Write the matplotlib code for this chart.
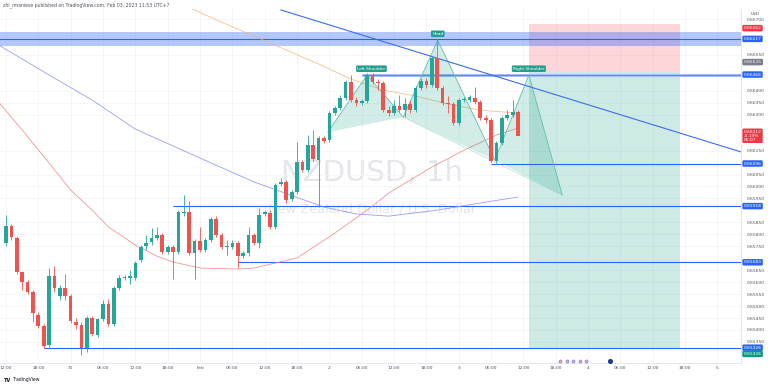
import matplotlib
matplotlib.use('Agg')
import matplotlib.pyplot as plt
import matplotlib.transforms as mtransforms
from matplotlib.patches import Rectangle, Polygon

# NZDUSD 1h candles, first bar Jan 30 12:00
opens = [0.65763, 0.65834, 0.65784, 0.65642, 0.65600, 0.65558, 0.65462, 0.65416, 0.65337, 0.65625,
         0.65542, 0.65575, 0.65542, 0.65433, 0.65420, 0.65324, 0.65450, 0.65379, 0.65446, 0.65508,
         0.65425, 0.65575, 0.65617, 0.65617, 0.65617, 0.65692, 0.65751, 0.65767, 0.65784, 0.65797,
         0.65726, 0.65747, 0.65726, 0.65889, 0.65893, 0.65721, 0.65772, 0.65734, 0.65776, 0.65864,
         0.65797, 0.65747, 0.65747, 0.65763, 0.65709, 0.65721, 0.65797, 0.65763, 0.65884, 0.65889,
         0.65830, 0.66010, 0.66018, 0.65947, 0.65976, 0.66102, 0.66068, 0.66173, 0.66110, 0.66202,
         0.66194, 0.66307, 0.66328, 0.66369, 0.66436, 0.66361, 0.66348, 0.66357, 0.66466, 0.66436,
         0.66432, 0.66319, 0.66307, 0.66336, 0.66319, 0.66344, 0.66319, 0.66411, 0.66440, 0.66424,
         0.66537, 0.66411, 0.66348, 0.66344, 0.66265, 0.66361, 0.66361, 0.66369, 0.66353, 0.66286,
         0.66277, 0.66106, 0.66181, 0.66286, 0.66298, 0.66311]
closes = [0.65834, 0.65788, 0.65642, 0.65600, 0.65558, 0.65470, 0.65416, 0.65333, 0.65625, 0.65575,
          0.65575, 0.65542, 0.65437, 0.65420, 0.65324, 0.65450, 0.65383, 0.65446, 0.65508, 0.65425,
          0.65575, 0.65617, 0.65621, 0.65625, 0.65680, 0.65747, 0.65763, 0.65784, 0.65797, 0.65726,
          0.65747, 0.65726, 0.65893, 0.65893, 0.65721, 0.65772, 0.65734, 0.65776, 0.65864, 0.65797,
          0.65747, 0.65751, 0.65763, 0.65709, 0.65721, 0.65797, 0.65763, 0.65880, 0.65893, 0.65830,
          0.66006, 0.66018, 0.65943, 0.65976, 0.66102, 0.66068, 0.66173, 0.66114, 0.66202, 0.66190,
          0.66307, 0.66328, 0.66369, 0.66436, 0.66361, 0.66348, 0.66357, 0.66466, 0.66436, 0.66432,
          0.66319, 0.66307, 0.66336, 0.66319, 0.66344, 0.66319, 0.66411, 0.66440, 0.66424, 0.66537,
          0.66411, 0.66348, 0.66344, 0.66265, 0.66361, 0.66365, 0.66374, 0.66353, 0.66286, 0.66277,
          0.66106, 0.66181, 0.66286, 0.66298, 0.66311, 0.66212]
highs = [0.65880, 0.65843, 0.65793, 0.65646, 0.65609, 0.65567, 0.65475, 0.65425, 0.65659, 0.65667,
         0.65588, 0.65634, 0.65550, 0.65450, 0.65433, 0.65458, 0.65458, 0.65450, 0.65525, 0.65529,
         0.65584, 0.65629, 0.65629, 0.65650, 0.65688, 0.65755, 0.65797, 0.65826, 0.65830, 0.65805,
         0.65755, 0.65755, 0.65901, 0.65964, 0.65939, 0.65780, 0.65830, 0.65784, 0.65872, 0.65876,
         0.65805, 0.65776, 0.65776, 0.65772, 0.65730, 0.65830, 0.65805, 0.65909, 0.65901, 0.65901,
         0.66014, 0.66035, 0.66027, 0.65985, 0.66185, 0.66110, 0.66215, 0.66236, 0.66211, 0.66211,
         0.66315, 0.66336, 0.66382, 0.66445, 0.66466, 0.66374, 0.66365, 0.66474, 0.66474, 0.66449,
         0.66440, 0.66336, 0.66361, 0.66382, 0.66369, 0.66361, 0.66420, 0.66453, 0.66453, 0.66545,
         0.66617, 0.66420, 0.66378, 0.66353, 0.66369, 0.66374, 0.66382, 0.66415, 0.66361, 0.66298,
         0.66286, 0.66190, 0.66294, 0.66319, 0.66361, 0.66319]
lows = [0.65751, 0.65776, 0.65634, 0.65567, 0.65550, 0.65433, 0.65408, 0.65324, 0.65329, 0.65558,
        0.65525, 0.65525, 0.65429, 0.65404, 0.65295, 0.65308, 0.65375, 0.65371, 0.65437, 0.65416,
        0.65416, 0.65567, 0.65609, 0.65592, 0.65609, 0.65684, 0.65734, 0.65755, 0.65776, 0.65717,
        0.65717, 0.65613, 0.65717, 0.65876, 0.65713, 0.65613, 0.65726, 0.65726, 0.65767, 0.65788,
        0.65738, 0.65713, 0.65738, 0.65659, 0.65700, 0.65709, 0.65755, 0.65742, 0.65876, 0.65822,
        0.65822, 0.66002, 0.65930, 0.65939, 0.65968, 0.66060, 0.66060, 0.66106, 0.65914, 0.66181,
        0.66185, 0.66298, 0.66319, 0.66361, 0.66353, 0.66336, 0.66340, 0.66348, 0.66428, 0.66403,
        0.66311, 0.66294, 0.66298, 0.66311, 0.66290, 0.66307, 0.66311, 0.66403, 0.66411, 0.66415,
        0.66403, 0.66340, 0.66307, 0.66256, 0.66256, 0.66353, 0.66353, 0.66344, 0.66277, 0.66265,
        0.66102, 0.66098, 0.66173, 0.66277, 0.66290, 0.66219]

# moving averages (read at a few bars)
ma_orange_idx = [30, 40, 46, 52, 58, 64, 70, 76, 82, 88, 95]
ma_orange = [0.66788, 0.66687, 0.66629, 0.66570, 0.66512, 0.66449, 0.66403, 0.66378, 0.66345, 0.66319, 0.66307]
ma_red_idx = [-2, 3, 8, 12, 16, 19, 24, 28, 31, 36, 43, 46, 54, 61, 67, 71, 75, 79, 85, 91, 95]
ma_red = [0.66370, 0.66236, 0.66098, 0.65985, 0.65901, 0.65831, 0.65755, 0.65709, 0.65684, 0.65659,
          0.65655, 0.65659, 0.65701, 0.65805, 0.65901, 0.65972, 0.66027, 0.66081, 0.66152, 0.66215, 0.66244]
ma_blue_idx = [-2, 8, 16, 24, 36, 46, 59, 65, 71, 80, 88, 95]
ma_blue = [0.66600, 0.66466, 0.66361, 0.66240, 0.66119, 0.66019, 0.65914, 0.65885, 0.65876, 0.65901, 0.65931, 0.65956]

# horizontal levels and where they start
levels = [0.66617, 0.66468, 0.66096, 0.65918, 0.65683, 0.65326]
level_start = [-1.5, 66, 90, 31, 43, 7]
zone = (0.66588, 0.66644)

# head and shoulders points
hs_idx = [59.7, 67, 73.7, 80.1, 90.7, 97, 103.2]
hs_val = [0.66227, 0.66466, 0.66290, 0.66612, 0.66110, 0.66466, 0.65964]

# short position
pos_start, pos_end = 97, 125
entry, stop, target = 0.66478, 0.66679, 0.65326

# trend line
trend_idx = [51, 137]
trend_val = [0.66738, 0.66140]

time_ticks = [0, 6, 12, 18, 24, 30, 36, 42, 48, 54, 60, 66, 72, 78, 84, 90, 96, 102, 108, 114, 120, 126, 132]
time_labels = ['12:00', '18:00', '31', '06:00', '12:00', '18:00', 'Feb', '06:00', '12:00', '18:00', '2',
               '06:00', '12:00', '18:00', '3', '06:00', '12:00', '18:00', '4', '06:00', '12:00', '18:00', '5']

# coloured labels on the price scale: (price shown at, text, colour)
scale_labels = [(0.66662, '0.66662', '#f23645'),
                (0.66617, '0.66617', '#2962ff'),
                (0.66520, '0.66525', '#787b86'),
                (0.66468, '0.66468', '#2962ff'),
                (0.66212, '0.66212\n-0.19%\n06:07', '#f23645'),
                (0.66096, '0.66096', '#2962ff'),
                (0.65918, '0.65918', '#2962ff'),
                (0.65683, '0.65683', '#2962ff'),
                (0.65326, '0.65326', '#2962ff'),
                (0.65300, '0.65326', '#089981')]

# plain scale ticks, skipping the ones hidden under a coloured label
price_ticks = []
for k in range(28):
    p = round(0.6535 + 0.0005 * k, 5)
    gap = 0.00024
    hidden = False
    for lp, txt, col in scale_labels:
        g = 0.00040 if '\n' in txt else gap
        if abs(p - lp) < g:
            hidden = True
    if not hidden:
        price_ticks.append(p)

up = '#26a69a'
down = '#ef5350'
lineblue = '#2962ff'

fig = plt.figure(figsize=(7.68, 3.86), dpi=100)
fig.patch.set_facecolor('white')
ax = fig.add_axes([0, 23 / 386, 741 / 768, 354 / 386])
ax.set_xlim(-1.11, 136.36)
ax.set_ylim(0.65262, 0.66742)

for sp in ax.spines.values():
    sp.set_color('#e0e3eb')
    sp.set_linewidth(0.6)
ax.spines['top'].set_visible(False)
ax.spines['left'].set_visible(False)

ax.set_xticks(time_ticks)
ax.set_xticklabels(time_labels)
ax.yaxis.tick_right()
ax.set_yticks(price_ticks)
ax.set_yticklabels(['%.5f' % p for p in price_ticks])
ax.tick_params(axis='both', length=0, labelsize=3.2, colors='#50535e')
ax.tick_params(axis='y', pad=4.2)
ax.tick_params(axis='x', pad=2.2)
ax.grid(True, color='#f2f3f6', linewidth=0.5)
ax.set_axisbelow(True)

# watermark
ax.text(0.502, 0.538, 'NZDUSD, 1h', transform=ax.transAxes, fontsize=21, color='#e4e6ec',
        ha='center', va='center', zorder=0.5)
ax.text(0.502, 0.435, 'New Zealand Dollar / U.S. Dollar', transform=ax.transAxes, fontsize=9.3,
        color='#e4e6ec', ha='center', va='center', zorder=0.5)

# position box
ax.add_patch(Rectangle((pos_start, entry), pos_end - pos_start, stop - entry,
                       facecolor='#f23645', alpha=0.2, linewidth=0, zorder=1))
ax.add_patch(Rectangle((pos_start, target), pos_end - pos_start, entry - target,
                       facecolor='#089981', alpha=0.2, linewidth=0, zorder=1))

# zone and levels
ax.axhspan(zone[0], zone[1], facecolor='#2962ff', alpha=0.35, linewidth=0, zorder=1.2)
for lv, st in zip(levels, level_start):
    if lv == 0.66468:
        ax.hlines(lv, st, 140, color='#a9bdf8', linewidth=2.2, zorder=1.3)
        ax.hlines(lv, st, 140, color='#5a84f7', linewidth=0.7, zorder=1.4)
    else:
        ax.hlines(lv, st, 140, color=lineblue, linewidth=0.8, zorder=1.4)

# moving averages
ax.plot(ma_orange_idx, ma_orange, color='#f7b26a', linewidth=0.6, alpha=0.8, zorder=1.5)
ax.plot(ma_red_idx, ma_red, color='#f28b8b', linewidth=0.6, alpha=0.9, zorder=1.5)
ax.plot(ma_blue_idx, ma_blue, color='#8c96f2', linewidth=0.6, alpha=0.9, zorder=1.5)

# head and shoulders pattern
for a, b, c in [(0, 1, 2), (2, 3, 4), (4, 5, 6)]:
    ax.add_patch(Polygon([(hs_idx[a], hs_val[a]), (hs_idx[b], hs_val[b]), (hs_idx[c], hs_val[c])],
                         closed=True, facecolor='#089981', alpha=0.18, linewidth=0, zorder=1.6))
ax.plot(hs_idx, hs_val, color='#5fbfae', linewidth=0.6, zorder=1.7)
ax.plot([hs_idx[2], hs_idx[6]], [hs_val[2], hs_val[6]], color='#5fbfae', linewidth=0.4, alpha=0.6, zorder=1.7)

# trend line
ax.plot(trend_idx, trend_val, color='#3a6df0', linewidth=0.8, zorder=1.8)

# candles
for i in range(len(opens)):
    o, c, h, l = opens[i], closes[i], highs[i], lows[i]
    col = up if c >= o else down
    ax.vlines(i, l, h, color=col, linewidth=0.6, zorder=2)
    ax.bar(i, max(abs(c - o), 0.000012), bottom=min(o, c), width=0.68, color=col,
           linewidth=0, zorder=2.1)

# pattern labels
lab = dict(fontsize=3.1, color='white', ha='center', va='bottom', zorder=5,
           bbox=dict(boxstyle='round,pad=0.3', facecolor='#22a08d', edgecolor='none'))
ax.text(hs_idx[1] + 0.8, hs_val[1] + 0.00018, 'Left Shoulder', **lab)
ax.text(hs_idx[3], hs_val[3] + 0.00018, 'Head', **lab)
ax.text(hs_idx[5], hs_val[5] + 0.00018, 'Right Shoulder', **lab)

# right axis price labels
trans = mtransforms.blended_transform_factory(ax.transAxes, ax.transData)
for lp, txt, col in scale_labels:
    ax.text(1.0035, lp, txt, transform=trans, fontsize=3.2, color='white', ha='left', va='center',
            clip_on=False, zorder=10, linespacing=1.0,
            bbox=dict(boxstyle='round,pad=0.28', facecolor=col, edgecolor='none'))
ax.text(1.019, 0.985, 'USD', transform=ax.transAxes, fontsize=3.2, color='#50535e',
        ha='center', va='center', clip_on=False)

# event icons on time axis
ax.scatter([102.8, 104.0, 105.2, 106.4, 107.6], [0.65272] * 5, s=5, color='#f7a4a4',
           edgecolors='#5a7ff0', linewidths=0.4, zorder=6, clip_on=False)
ax.scatter([112.0], [0.65272], s=7, color='#1e3a8a', zorder=6, clip_on=False)

# header and logo
fig.text(0.004, 1 - 5 / 386, 'zhi_rmaniese published on TradingView.com, Feb 03, 2023 11:53 UTC+7',
         fontsize=3.3, color='#50535e', va='center', ha='left')
fig.text(0.005, 1 - 380 / 386, 'TV', fontsize=3.6, color='#131722', fontweight='bold',
         va='center', ha='left')
fig.text(0.016, 1 - 380 / 386, 'TradingView', fontsize=3.3, color='#131722', va='center', ha='left')

fig.savefig('out.png', dpi=100)
